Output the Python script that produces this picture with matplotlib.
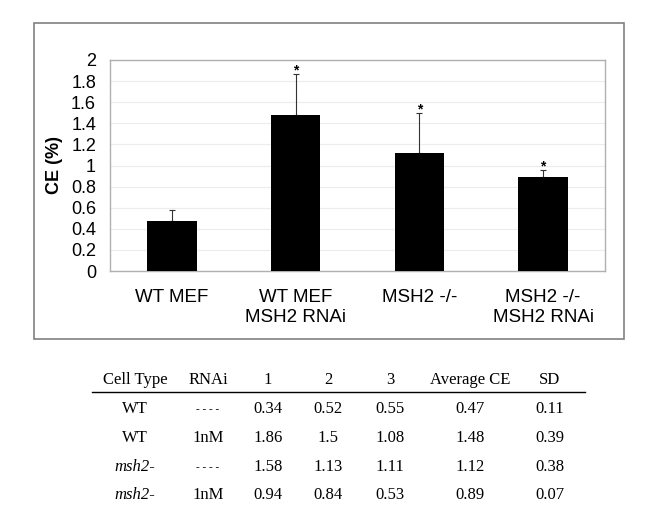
import numpy as np
import matplotlib.pyplot as plt
from matplotlib.patches import Rectangle
from matplotlib.lines import Line2D

# chart data
groups = ["WT MEF", "WT MEF\nMSH2 RNAi", "MSH2 -/-", "MSH2 -/-\nMSH2 RNAi"]
avg_ce = [0.47, 1.48, 1.12, 0.89]
sd = [0.11, 0.39, 0.38, 0.07]
stars = ["", "*", "*", "*"]

# table data
col_heads = ["Cell Type", "RNAi", "1", "2", "3", "Average CE", "SD"]
cell_type = ["WT", "WT", "msh2-", "msh2-"]
rnai = ["- - - -", "1nM", "- - - -", "1nM"]
rep1 = ["0.34", "1.86", "1.58", "0.94"]
rep2 = ["0.52", "1.5", "1.13", "0.84"]
rep3 = ["0.55", "1.08", "1.11", "0.53"]
avg_txt = ["0.47", "1.48", "1.12", "0.89"]
sd_txt = ["0.11", "0.39", "0.38", "0.07"]

W, H = 651, 521
fig = plt.figure(figsize=(W/100, H/100), dpi=100)
plt.rcParams['font.family'] = ['Liberation Sans', 'DejaVu Sans']

# outer frame around the chart
fig.add_artist(Rectangle((34/W, 1-339/H), 590/W, 316/H, transform=fig.transFigure,
                         fill=False, edgecolor='#808080', linewidth=1.2))

ax = fig.add_axes([110/W, 1-271/H, 495/W, 211/H])
x = np.arange(len(groups))
ax.bar(x, avg_ce, width=0.4, color='black', zorder=3)
ax.errorbar(x, avg_ce, yerr=[np.zeros(len(sd)), sd], fmt='none', ecolor='#333333',
            elinewidth=0.8, capsize=2.5, capthick=0.8, zorder=2)
for i in range(len(groups)):
    if stars[i]:
        ax.text(x[i], avg_ce[i] + sd[i] - 0.005, stars[i], ha='center', va='baseline',
                fontsize=10, fontweight='bold')

ax.set_xlim(-0.5, 3.5)
ax.set_ylim(0, 2)
ax.set_yticks(np.arange(0, 2.01, 0.2))
ax.set_yticklabels(["0", "0.2", "0.4", "0.6", "0.8", "1", "1.2", "1.4", "1.6", "1.8", "2"])
ax.set_xticks(x)
ax.set_xticklabels(groups, fontsize=13.5, linespacing=1.25)
ax.tick_params(axis='y', length=0, pad=10, labelsize=13)
ax.tick_params(axis='x', length=0, pad=13)
ax.yaxis.grid(True, color='#ececec', linewidth=0.8, zorder=0)
ax.set_axisbelow(True)
for s in ax.spines.values():
    s.set_color('#b0b0b0')
    s.set_linewidth(1)
ax.set_ylabel("CE (%)", fontsize=13, fontweight='bold', labelpad=6)

# table below the chart
cols = [cell_type, rnai, rep1, rep2, rep3, avg_txt, sd_txt]
col_x = [135, 208, 268, 328, 390, 470, 550]
head_y = 380
row_y = [409, 438, 467, 495]
tfont = ['Liberation Serif', 'DejaVu Serif']
for cx, h in zip(col_x, col_heads):
    fig.text(cx/W, 1-head_y/H, h, ha='center', va='center', fontsize=12, family=tfont)
fig.add_artist(Line2D([92/W, 585/W], [1-392/H, 1-392/H], transform=fig.transFigure,
                      color='black', linewidth=1))
for ci, col in enumerate(cols):
    for ri, val in enumerate(col):
        style = 'italic' if (ci == 0 and val.startswith('msh2')) else 'normal'
        fs = 8 if val.startswith('-') else 12
        fig.text(col_x[ci]/W, 1-row_y[ri]/H, val, ha='center', va='center', fontsize=fs,
                 family=tfont, style=style)

fig.savefig("out.png", dpi=100)
